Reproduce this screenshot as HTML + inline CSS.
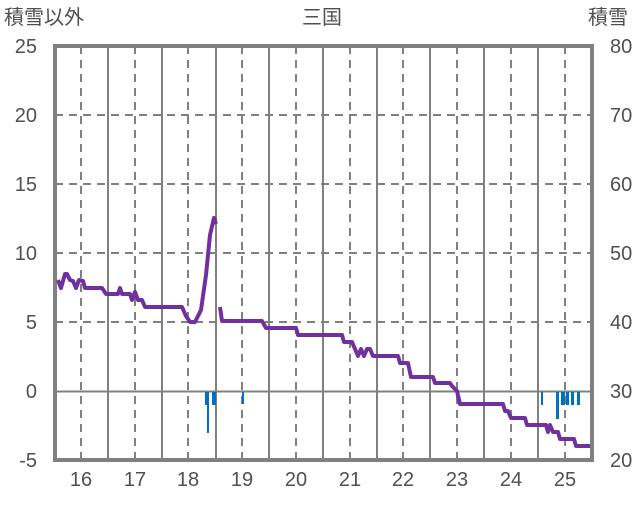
<!DOCTYPE html>
<html><head><meta charset="utf-8"><style>
body{margin:0;background:#fff}
svg text{font-family:"Liberation Sans","Noto Sans CJK JP",sans-serif;fill:#505050;font-size:20px}
</style></head><body>
<svg width="636" height="501" xmlns="http://www.w3.org/2000/svg">
<g stroke="#808080" stroke-width="2" stroke-dasharray="8,6">
<line x1="55" y1="322" x2="592" y2="322"/><line x1="55" y1="253" x2="592" y2="253"/>
<line x1="55" y1="184" x2="592" y2="184"/><line x1="55" y1="115" x2="592" y2="115"/>
<line x1="81" y1="46" x2="81" y2="460"/><line x1="135" y1="46" x2="135" y2="460"/>
<line x1="188" y1="46" x2="188" y2="460"/><line x1="242" y1="46" x2="242" y2="460"/>
<line x1="296" y1="46" x2="296" y2="460"/><line x1="350" y1="46" x2="350" y2="460"/>
<line x1="403" y1="46" x2="403" y2="460"/><line x1="457" y1="46" x2="457" y2="460"/>
<line x1="511" y1="46" x2="511" y2="460"/><line x1="565" y1="46" x2="565" y2="460"/>
</g>
<g stroke="#808080" stroke-width="2">
<line x1="108" y1="46" x2="108" y2="460"/><line x1="162" y1="46" x2="162" y2="460"/>
<line x1="216" y1="46" x2="216" y2="460"/><line x1="269" y1="46" x2="269" y2="460"/>
<line x1="323" y1="46" x2="323" y2="460"/><line x1="377" y1="46" x2="377" y2="460"/>
<line x1="430" y1="46" x2="430" y2="460"/><line x1="484" y1="46" x2="484" y2="460"/>
<line x1="538" y1="46" x2="538" y2="460"/>
<line x1="55" y1="391.5" x2="592" y2="391.5"/>
</g>
<rect x="55" y="46" width="537" height="414" fill="none" stroke="#808080" stroke-width="4"/>
<g fill="#0070c0">
<rect x="205" y="392" width="3" height="13"/><rect x="207" y="392" width="2" height="41"/>
<rect x="212" y="392" width="4" height="13"/><rect x="242" y="392" width="2" height="12"/>
<rect x="541" y="392" width="2" height="13"/><rect x="556" y="392" width="3" height="27"/>
<rect x="561" y="392" width="4" height="13"/><rect x="566" y="392" width="3" height="13"/>
<rect x="571" y="392" width="3" height="13"/><rect x="577" y="392" width="3" height="13"/>
</g>
<g fill="none" stroke="#7030a0" stroke-width="4" stroke-linejoin="round">
<polyline points="58,280 61,288 65,274 67,274 70,280 73,281 76,288 79,280 83,281 85,288 102,288 106,294 118,294 120,288 122,294 130,294 132,300 135,292 138,300 142,300 145,307 182,307 186,316 190,322 195,322 201,310 206,275 210,235 214,218 216,224"/>
<polyline points="220,307 222,321 262,321 266,328 296,328 298,335 342,335 344,342 352,342 355,349 358,356 361,349 364,356 367,349 370,349 373,356 398,356 400,363 408,363 411,377 433,377 435,383 450,383 452,386 457,391 460,404 503,404 505,411 508,411 511,418 525,418 527,425 546,425 548,432 550,425 553,432 558,432 560,439 574,439 576,446 590,446"/>
</g>
<g text-anchor="end">
<text x="37" y="53">25</text><text x="37" y="122">20</text><text x="37" y="191">15</text>
<text x="37" y="260">10</text><text x="37" y="329">5</text><text x="37" y="398">0</text><text x="37" y="467">-5</text>
</g>
<g>
<text x="610" y="53">80</text><text x="610" y="122">70</text><text x="610" y="191">60</text>
<text x="610" y="260">50</text><text x="610" y="329">40</text><text x="610" y="398">30</text><text x="610" y="467">20</text>
</g>
<g text-anchor="middle">
<text x="81" y="486">16</text><text x="135" y="486">17</text><text x="188" y="486">18</text>
<text x="242" y="486">19</text><text x="296" y="486">20</text><text x="350" y="486">21</text>
<text x="403" y="486">22</text><text x="457" y="486">23</text><text x="511" y="486">24</text>
<text x="565" y="486">25</text>
<text x="322" y="24">三国</text>
</g>
<text x="4" y="24">積雪以外</text>
<text x="588" y="24">積雪</text>
</svg>
</body></html>
